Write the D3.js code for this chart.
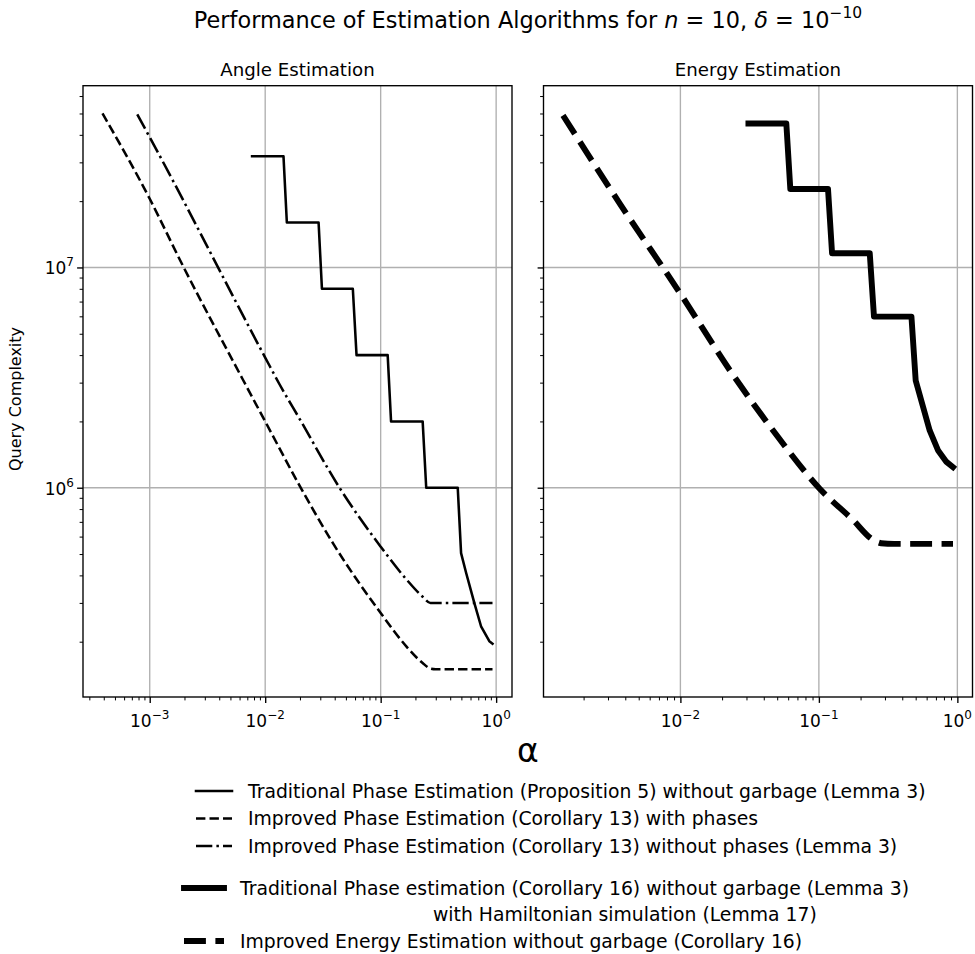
<!DOCTYPE html>
<html>
<head>
<meta charset="utf-8">
<script src="https://cdn.jsdelivr.net/npm/d3@7"></script>
<style>
  body { margin: 0; background: #fff; }
  text { font-family: "DejaVu Sans", sans-serif; fill: #000; }
</style>
</head>
<body>
<svg id="chart"></svg>
<script>
// ---- data (alpha, query complexity) ----
// Angle estimation panel
const alphaTradAngle = [0.0077, 0.0144, 0.0154, 0.029, 0.031, 0.0574, 0.0618, 0.115, 0.123, 0.231, 0.248, 0.465, 0.497, 0.55, 0.647, 0.74, 0.873, 0.93];
const queryTradAngle = [3.2e7, 3.2e7, 1.6e7, 1.6e7, 8e6, 8e6, 4e6, 4e6, 2e6, 2e6, 1e6, 1e6, 5.05e5, 4.1e5, 3.0e5, 2.35e5, 2.01e5, 1.96e5];

const alphaImpPhases = [3.9e-4, 1e-3, 1.88e-3, 6.4e-3, 1e-2, 0.0199, 0.0386, 0.1, 0.166, 0.231, 0.27, 0.3, 0.93];
const queryImpPhases = [5.0e7, 2.05e7, 1.05e7, 3.1e6, 2.0e6, 1.02e6, 5.6e5, 2.7e5, 1.91e5, 1.6e5, 1.51e5, 1.5e5, 1.5e5];

const alphaImpNoPhases = [7.8e-4, 1e-3, 1e-2, 0.0133, 0.0199, 0.044, 0.1, 0.166, 0.231, 0.27, 0.3, 0.93];
const queryImpNoPhases = [4.95e7, 3.9e7, 3.9e6, 2.95e6, 2.05e6, 1.0e6, 5.4e5, 3.85e5, 3.2e5, 3.0e5, 3.0e5, 3.0e5];

// Energy estimation panel
const alphaTradEnergy = [0.031, 0.0582, 0.0622, 0.1164, 0.1245, 0.233, 0.25, 0.466, 0.50, 0.565, 0.631, 0.724, 0.834, 0.93];
const queryTradEnergy = [4.5e7, 4.5e7, 2.27e7, 2.27e7, 1.16e7, 1.16e7, 5.98e6, 5.98e6, 3.07e6, 2.33e6, 1.82e6, 1.48e6, 1.31e6, 1.24e6];

const alphaImpEnergy = [1.42e-3, 3.65e-3, 1e-2, 0.024, 0.0467, 0.1014, 0.176, 0.246, 0.282, 0.35, 0.93];
const queryImpEnergy = [4.9e7, 1.95e7, 7.6e6, 3.25e6, 1.82e6, 9.9e5, 7.14e5, 5.8e5, 5.6e5, 5.56e5, 5.56e5];

// ticks
const xTicksAngle = [1e-3, 1e-2, 1e-1, 1];
const xTicksEnergy = [1e-2, 1e-1, 1];
const yTicks = [1e6, 1e7];

// labels
const legendAngleLabels = [
  "Traditional Phase Estimation (Proposition 5) without garbage (Lemma 3)",
  "Improved Phase Estimation (Corollary 13) with phases",
  "Improved Phase Estimation (Corollary 13) without phases (Lemma 3)"
];
const legendEnergyLabels = [
  "Traditional Phase estimation (Corollary 16) without garbage (Lemma 3)",
  "Improved Energy Estimation without garbage (Corollary 16)"
];
const legendEnergyNote = "with Hamiltonian simulation (Lemma 17)";

// ---- styles ----
const styles = {
  solid:    { w: 2.55, dash: null,               cap: "square" },
  dashed:   { w: 2.55, dash: "9.4 4.1",          cap: "butt" },
  dashdot:  { w: 2.55, dash: "16.3 4.1 2.5 4.1", cap: "butt" },
  thick:    { w: 5.9,  dash: null,               cap: "square" },
  thickDash:{ w: 5.9,  dash: "21.9 9.5",         cap: "butt" }
};

const W = 975, H = 954;
const plotTop = 85.7, plotBottom = 697;

const svg = d3.select("#chart").attr("width", W).attr("height", H);
svg.append("rect").attr("width", W).attr("height", H).attr("fill", "#fff");

const zip = (a, b) => a.map((v, i) => [v, b[i]]);

// matplotlib-like autoscale: 5% margin in log space
function logPad(vals) {
  const e = d3.extent(vals).map(Math.log10);
  const p = (e[1] - e[0]) * 0.05;
  return [Math.pow(10, e[0] - p), Math.pow(10, e[1] + p)];
}
function minorTicks(dom) {
  const out = [];
  for (let k = Math.floor(Math.log10(dom[0])); k <= Math.ceil(Math.log10(dom[1])); k++) {
    for (let m = 2; m <= 9; m++) {
      const v = m * Math.pow(10, k);
      if (v >= dom[0] && v <= dom[1]) out.push(v);
    }
  }
  return out;
}

const y = d3.scaleLog()
  .domain(logPad([].concat(queryTradAngle, queryImpPhases, queryImpNoPhases, queryTradEnergy, queryImpEnergy)))
  .range([plotBottom, plotTop]);

const panels = [
  {
    x0: 83, x1: 512, title: "Angle Estimation", xTicks: xTicksAngle, yLabels: true,
    series: [
      { data: zip(alphaTradAngle, queryTradAngle), style: "solid", curve: d3.curveLinear },
      { data: zip(alphaImpPhases, queryImpPhases), style: "dashed", curve: d3.curveMonotoneX },
      { data: zip(alphaImpNoPhases, queryImpNoPhases), style: "dashdot", curve: d3.curveMonotoneX }
    ]
  },
  {
    x0: 543.5, x1: 972.5, title: "Energy Estimation", xTicks: xTicksEnergy, yLabels: false,
    series: [
      { data: zip(alphaTradEnergy, queryTradEnergy), style: "thick", curve: d3.curveLinear },
      { data: zip(alphaImpEnergy, queryImpEnergy), style: "thickDash", curve: d3.curveMonotoneX }
    ]
  }
];

function supLabel(sel, exp) {
  sel.append("tspan").text("10");
  sel.append("tspan").attr("font-size", 12).attr("dy", -8)
    .text(exp < 0 ? "\u2212" + (-exp) : String(exp));
}

panels.forEach(p => {
  const allX = [].concat(...p.series.map(s => s.data.map(d => d[0])));
  const x = d3.scaleLog().domain(logPad(allX)).range([p.x0, p.x1]);
  const g = svg.append("g");

  // grid
  g.selectAll(".gx").data(p.xTicks).join("line")
    .attr("x1", d => x(d)).attr("x2", d => x(d))
    .attr("y1", plotTop).attr("y2", plotBottom)
    .attr("stroke", "#b0b0b0").attr("stroke-width", 1.36);
  g.selectAll(".gy").data(yTicks).join("line")
    .attr("x1", p.x0).attr("x2", p.x1)
    .attr("y1", d => y(d)).attr("y2", d => y(d))
    .attr("stroke", "#b0b0b0").attr("stroke-width", 1.36);

  // lines
  p.series.forEach(s => {
    const st = styles[s.style];
    g.append("path")
      .datum(s.data)
      .attr("fill", "none")
      .attr("stroke", "#000")
      .attr("stroke-width", st.w)
      .attr("stroke-linecap", st.cap)
      .attr("stroke-linejoin", "round")
      .attr("stroke-dasharray", st.dash)
      .attr("d", d3.line().curve(s.curve).x(d => x(d[0])).y(d => y(d[1])));
  });

  // x axis ticks
  const xa = g.append("g").attr("transform", `translate(0,${plotBottom})`);
  xa.call(d3.axisBottom(x).tickValues(p.xTicks).tickSize(5.9).tickFormat(""));
  xa.selectAll(".tick line").attr("stroke-width", 1.36);
  xa.append("g").call(d3.axisBottom(x).tickValues(minorTicks(x.domain())).tickSize(3.4).tickFormat(""))
    .selectAll(".tick line").attr("stroke-width", 1);
  xa.selectAll(".domain").remove();
  p.xTicks.forEach(v => {
    const t = g.append("text").attr("x", x(v)).attr("y", 727)
      .attr("text-anchor", "middle").attr("font-size", 17);
    supLabel(t, Math.round(Math.log10(v)));
  });

  // y axis ticks
  const ya = g.append("g").attr("transform", `translate(${p.x0},0)`);
  ya.call(d3.axisLeft(y).tickValues(yTicks).tickSize(5.9).tickFormat(""));
  ya.selectAll(".tick line").attr("stroke-width", 1.36);
  ya.append("g").call(d3.axisLeft(y).tickValues(minorTicks(y.domain())).tickSize(3.4).tickFormat(""))
    .selectAll(".tick line").attr("stroke-width", 1);
  ya.selectAll(".domain").remove();
  if (p.yLabels) {
    yTicks.forEach(v => {
      const t = g.append("text").attr("x", 74).attr("y", y(v) + 7)
        .attr("text-anchor", "end").attr("font-size", 17);
      supLabel(t, Math.round(Math.log10(v)));
    });
  }

  // spines
  g.append("rect")
    .attr("x", p.x0).attr("y", plotTop)
    .attr("width", p.x1 - p.x0).attr("height", plotBottom - plotTop)
    .attr("fill", "none").attr("stroke", "#000").attr("stroke-width", 1.36);

  // panel title
  g.append("text").attr("x", (p.x0 + p.x1) / 2).attr("y", 76)
    .attr("text-anchor", "middle").attr("font-size", 18.2).text(p.title);
});

// figure title
const title = svg.append("text").attr("x", 528).attr("y", 28)
  .attr("text-anchor", "middle").attr("font-size", 22.4);
title.append("tspan").text("Performance of Estimation Algorithms for ");
title.append("tspan").attr("font-style", "italic").text("n");
title.append("tspan").text(" = 10, ");
title.append("tspan").attr("font-style", "italic").text("\u03b4");
title.append("tspan").text(" = 10");
title.append("tspan").attr("font-size", 15.5).attr("dy", -10).text("\u221210");

// y label
svg.append("text")
  .attr("transform", "translate(21,399) rotate(-90)")
  .attr("text-anchor", "middle").attr("font-size", 16)
  .text("Query Complexity");

// shared x label
svg.append("text").attr("x", 528).attr("y", 762)
  .attr("text-anchor", "middle").attr("font-size", 33).text("\u03b1");

// legends
function legendRow(hx0, hx1, tx, yy, styleKey, label) {
  const st = styles[styleKey];
  svg.append("line")
    .attr("x1", hx0).attr("x2", hx1).attr("y1", yy).attr("y2", yy)
    .attr("stroke", "#000").attr("stroke-width", st.w)
    .attr("stroke-linecap", st.cap)
    .attr("stroke-dasharray", st.dash);
  svg.append("text").attr("x", tx).attr("y", yy + 6.5)
    .attr("font-size", 18.8).text(label);
}
const angleStyles = ["solid", "dashed", "dashdot"];
legendAngleLabels.forEach((lab, i) => legendRow(196, 232, 248, 791 + i * 27.5, angleStyles[i], lab));

legendRow(184, 224, 240, 888, "thick", legendEnergyLabels[0]);
svg.append("text").attr("x", 433).attr("y", 921).attr("font-size", 18.8).text(legendEnergyNote);
legendRow(184, 224, 240, 941, "thickDash", legendEnergyLabels[1]);
</script>
</body>
</html>
